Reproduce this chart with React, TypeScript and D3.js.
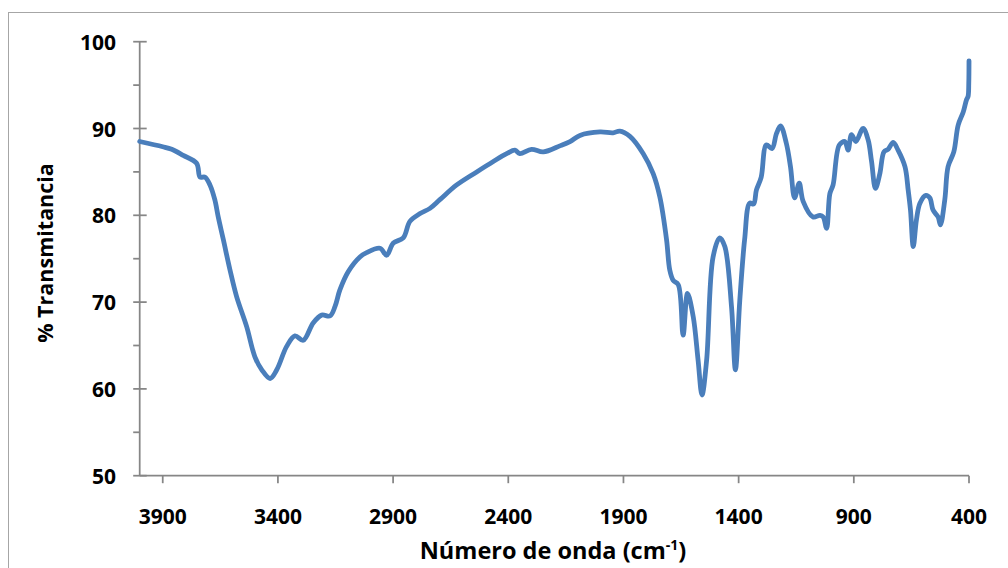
import React from "react";
import * as d3 from "d3";

// FTIR spectrum: wavenumber (cm-1) vs transmittance (%)
const wavenumbers = [
  4000, 3900, 3861, 3811, 3753, 3738, 3717, 3695, 3674, 3659, 3637, 3608, 3579, 3536, 3500, 3470, 3434,
  3405, 3362, 3326, 3290, 3247, 3210, 3174, 3152, 3131, 3095, 3044, 3015, 2957, 2928, 2899, 2856, 2827,
  2783, 2740, 2697, 2624, 2537, 2465, 2407, 2371, 2350, 2299, 2248, 2176, 2132, 2089, 2002, 1945, 1916,
  1872, 1814, 1771, 1742, 1713, 1699, 1684, 1662, 1641, 1622, 1597, 1576, 1559, 1539, 1511, 1482, 1460,
  1431, 1414, 1395, 1374, 1352, 1335, 1323, 1302, 1280, 1255, 1236, 1218, 1193, 1175, 1157, 1137, 1120,
  1077, 1047, 1033, 1018, 1004, 990, 963, 939, 925, 910, 891, 860, 838, 823, 806, 787, 769, 751, 729, 708,
  678, 664, 654, 642, 628, 613, 587, 570, 556, 534, 524, 505, 491, 466, 447, 425, 411, 404, 401, 400,
];
const transmittance = [
  88.5, 87.9, 87.6, 86.9, 86.0, 84.4, 84.4, 83.5, 81.8, 79.8, 77.2, 73.7, 70.6, 67.2, 63.7, 62.2, 61.2,
  62.2, 64.9, 66.1, 65.6, 67.6, 68.5, 68.4, 69.5, 71.4, 73.5, 75.2, 75.7, 76.2, 75.4, 76.8, 77.4, 79.3,
  80.2, 80.8, 81.8, 83.5, 85.0, 86.2, 87.1, 87.5, 87.1, 87.6, 87.3, 88.0, 88.5, 89.2, 89.6, 89.5, 89.7,
  89.1, 87.1, 84.8, 82.1, 77.2, 73.7, 72.5, 72.0, 66.2, 71.0, 68.3, 63.3, 59.3, 63.3, 75.2, 77.4, 76.4,
  69.5, 62.2, 70.2, 77.2, 81.4, 81.3, 82.9, 84.4, 88.1, 87.7, 89.4, 90.3, 88.3, 85.6, 82.0, 83.7, 81.6,
  79.8, 80.0, 79.8, 78.5, 82.5, 83.5, 88.1, 88.5, 87.5, 89.3, 88.5, 90.0, 88.7, 86.2, 83.1, 84.8, 87.3,
  87.6, 88.4, 87.5, 85.6, 82.9, 80.6, 76.4, 79.5, 81.4, 82.3, 82.0, 80.6, 79.8, 78.9, 81.8, 85.6, 87.3,
  90.4, 91.9, 93.3, 93.7, 95.2, 97.8,
];

const xTickValues = [3900, 3400, 2900, 2400, 1900, 1400, 900, 400];
const yTickValues = [50, 60, 70, 80, 90, 100];
const yMinorTicks = [55, 65, 75, 85, 95];

const xTitle = "Número de onda (cm";
const xTitleSup = "-1";
const yTitle = "% Transmitancia";

const W = 1008;
const H = 568;
const FONT = "'Open Sans', 'DejaVu Sans', sans-serif";
const AXIS = "#868686";
const LINE = "#4a7ebb";

export default function App() {
  const x = d3.scaleLinear().domain([4000, 400]).range([139.7, 969]);
  const y = d3.scaleLinear().domain([50, 100]).range([475.7, 41.7]);

  const points: [number, number][] = wavenumbers.map((w, i) => [w, transmittance[i]]);
  const path = d3
    .line<[number, number]>()
    .x((d) => x(d[0]))
    .y((d) => y(d[1]))
    .curve(d3.curveCatmullRom.alpha(0.5))(points);

  const x0 = x(4000);
  const x1 = x(400);
  const yb = y(50);

  return (
    <svg
      width={W}
      height={H}
      style={{ position: "absolute", left: 0, top: 0, display: "block", background: "#fff" }}
    >
      {/* outer chart frame */}
      <rect x={8.5} y={12.5} width={1010} height={570} fill="#fff" stroke="#a6a6a6" strokeWidth={1} />

      {/* y axis */}
      <line x1={x0} x2={x0} y1={y(100)} y2={yb} stroke={AXIS} strokeWidth={1.75} />
      {yTickValues.map((v) => (
        <g key={"yt" + v}>
          <line x1={x0 - 6.5} x2={x0 + 7} y1={y(v)} y2={y(v)} stroke={AXIS} strokeWidth={1.75} />
          <text
            x={116}
            y={y(v)}
            textAnchor="end"
            dominantBaseline="central"
            fontFamily={FONT}
            fontWeight={700}
            fontSize={21}
            fill="#000"
          >
            {v}
          </text>
        </g>
      ))}
      {yMinorTicks.map((v) => (
        <line key={"ym" + v} x1={x0 - 6.5} x2={x0} y1={y(v)} y2={y(v)} stroke={AXIS} strokeWidth={1.75} />
      ))}

      {/* x axis */}
      <line x1={x0} x2={x1} y1={yb} y2={yb} stroke={AXIS} strokeWidth={1.75} />
      {xTickValues.map((v) => (
        <g key={"xt" + v}>
          <line x1={x(v)} x2={x(v)} y1={yb} y2={yb + 7.5} stroke={AXIS} strokeWidth={1.75} />
          <text
            x={x(v)}
            y={523.5}
            textAnchor="middle"
            fontFamily={FONT}
            fontWeight={700}
            fontSize={21}
            fill="#000"
          >
            {v}
          </text>
        </g>
      ))}

      {/* spectrum */}
      <path
        d={path || ""}
        fill="none"
        stroke={LINE}
        strokeWidth={4.8}
        strokeLinejoin="round"
        strokeLinecap="round"
      />

      {/* axis titles */}
      <text
        x={553}
        y={559}
        textAnchor="middle"
        fontFamily={FONT}
        fontWeight={700}
        fontSize={23.5}
        fill="#000"
      >
        {xTitle}
        <tspan fontSize={14} dy={-9}>
          {xTitleSup}
        </tspan>
        <tspan dy={9}>)</tspan>
      </text>
      <text
        transform={`translate(53,253) rotate(-90)`}
        textAnchor="middle"
        fontFamily={FONT}
        fontWeight={700}
        fontSize={21.5}
        fill="#000"
      >
        {yTitle}
      </text>
    </svg>
  );
}
